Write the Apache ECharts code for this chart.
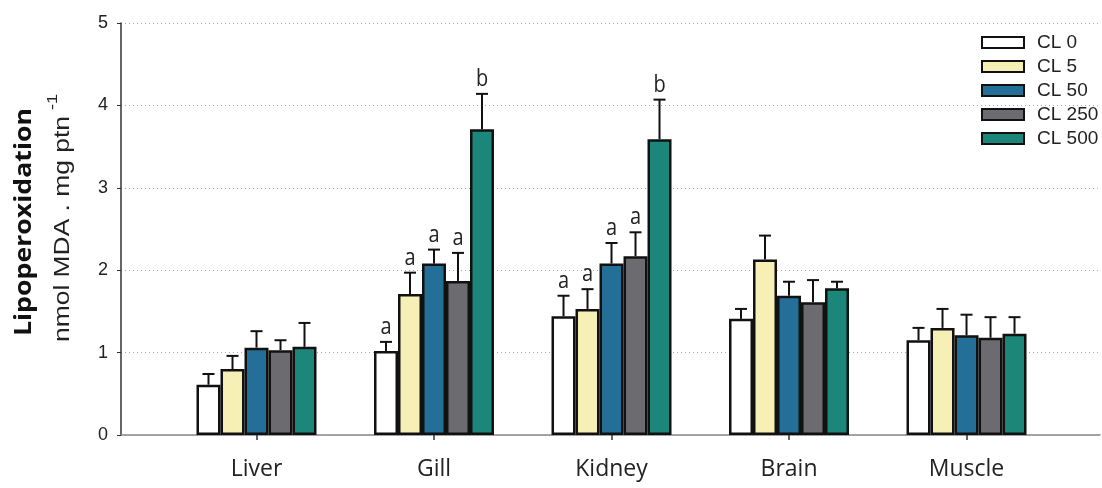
<!DOCTYPE html>
<html>
<head>
<meta charset="utf-8">
<script src="https://cdn.jsdelivr.net/npm/echarts@6/dist/echarts.min.js"></script>
<style>
  html, body { margin: 0; padding: 0; background: #fff; }
  #chart { width: 1102px; height: 488px; }
</style>
</head>
<body>
<div id="chart"></div>
<script>
// Tissues (x categories) and treatment groups
const categories = ['Liver', 'Gill', 'Kidney', 'Brain', 'Muscle'];
const groupNames = ['CL 0', 'CL 5', 'CL 50', 'CL 250', 'CL 500'];

// Mean lipoperoxidation per tissue, one array per group
const cl0   = [0.61, 1.02, 1.44, 1.41, 1.15];
const cl5   = [0.80, 1.71, 1.53, 2.13, 1.30];
const cl50  = [1.06, 2.08, 2.08, 1.69, 1.21];
const cl250 = [1.03, 1.87, 2.17, 1.61, 1.18];
const cl500 = [1.07, 3.71, 3.59, 1.78, 1.23];

// Standard errors (upper whisker) per group
const se0   = [0.13, 0.11, 0.25, 0.12, 0.15];
const se5   = [0.16, 0.26, 0.24, 0.29, 0.23];
const se50  = [0.20, 0.17, 0.25, 0.17, 0.25];
const se250 = [0.12, 0.34, 0.29, 0.27, 0.25];
const se500 = [0.29, 0.43, 0.48, 0.08, 0.20];

// Significance letters above the whiskers
const sig0   = ['', 'a', 'a', '', ''];
const sig5   = ['', 'a', 'a', '', ''];
const sig50  = ['', 'a', 'a', '', ''];
const sig250 = ['', 'a', 'a', '', ''];
const sig500 = ['', 'b', 'b', '', ''];

// Y axis ticks
const yTicks = [0, 1, 2, 3, 4, 5];

const means = [cl0, cl5, cl50, cl250, cl500];
const errs = [se0, se5, se50, se250, se500];
const sigs = [sig0, sig5, sig50, sig250, sig500];
const colors = ['#ffffff', '#f7f0b6', '#246f98', '#6c6c70', '#1d867a'];

const BAR_W = 24;
const catPos = categories.map((c, i) => i + 1);

const barSeries = groupNames.map((name, s) => ({
  name: name,
  type: 'bar',
  barWidth: BAR_W,
  barGap: '0%',
  itemStyle: { color: colors[s], borderColor: '#111', borderWidth: 2.5 },
  data: means[s].map((v, i) => [catPos[i], v]),
  z: 2
}));

// Whiskers + letters: [x, groupIndex, mean, upper, letter]
const errData = [];
groupNames.forEach((n, s) => {
  means[s].forEach((v, i) => {
    errData.push([catPos[i], s, v, v + errs[s][i], sigs[s][i]]);
  });
});

const errSeries = {
  type: 'custom',
  data: errData,
  encode: { x: 0, y: [2, 3] },
  z: 3,
  silent: true,
  renderItem: function (params, api) {
    const x = api.value(0);
    const s = api.value(1);
    const base = api.coord([x, api.value(2)]);
    const top = api.coord([x, api.value(3)]);
    const off = (s - (groupNames.length - 1) / 2) * BAR_W;
    const cx = base[0] + off;
    const children = [
      { type: 'line', shape: { x1: cx, y1: base[1], x2: cx, y2: top[1] },
        style: { stroke: '#111', lineWidth: 2 } },
      { type: 'line', shape: { x1: cx - 6, y1: top[1], x2: cx + 6, y2: top[1] },
        style: { stroke: '#111', lineWidth: 2 } }
    ];
    const letter = errData[params.dataIndex][4];
    if (letter) {
      children.push({
        type: 'text',
        x: cx, y: top[1] - 3, scaleY: 1.15,
        style: { text: letter, x: 0, y: 0, textAlign: 'center', textVerticalAlign: 'bottom',
                 fill: '#222', font: '20px "Open Sans", sans-serif' }
      });
    }
    return { type: 'group', children: children };
  }
};

const chart = echarts.init(document.getElementById('chart'), null, { renderer: 'canvas' });
chart.setOption({
  animation: false,
  backgroundColor: '#ffffff',
  grid: { left: 121, right: 2, top: 23, bottom: 53, containLabel: false },
  legend: {
    orient: 'vertical',
    left: 981,
    top: 33,
    padding: 0,
    itemWidth: 42,
    itemHeight: 11,
    itemGap: 5,
    icon: 'rect',
    textStyle: { fontFamily: '"Liberation Sans", Arial, sans-serif', fontSize: 19, color: '#222',
                 lineHeight: 18.5, padding: [0, 0, 0, 8] },
    data: groupNames
  },
  xAxis: {
    type: 'value',
    min: 0.2366,
    max: 5.752,
    splitLine: { show: false },
    axisLine: { show: true, onZero: false, lineStyle: { color: '#888', width: 1.5 } },
    axisTick: { show: true, customValues: catPos, length: 5, lineStyle: { color: '#333', width: 1.5 } },
    axisLabel: {
      customValues: catPos,
      formatter: v => categories[Math.round(v) - 1] || '',
      fontFamily: '"Open Sans", sans-serif',
      fontSize: 23,
      color: '#222',
      margin: 23
    }
  },
  yAxis: {
    type: 'value',
    min: 0,
    max: 5,
    interval: 1,
    axisLine: { show: true, lineStyle: { color: '#333', width: 1.5 } },
    axisTick: { show: true, length: 4, lineStyle: { color: '#333' } },
    axisLabel: {
      formatter: v => (yTicks.indexOf(v) >= 0 ? String(v) : ''),
      fontFamily: '"Liberation Sans", Arial, sans-serif', fontSize: 18, color: '#222', margin: 13
    },
    splitLine: { show: true, lineStyle: { color: '#aaa', type: [1, 3], width: 1 } }
  },
  graphic: [
    {
      type: 'text', x: 24, y: 222, rotation: Math.PI / 2, scaleX: 1.16,
      style: { text: 'Lipoperoxidation', x: 0, y: 0, textAlign: 'center', textVerticalAlign: 'middle',
               fill: '#111', font: 'bold 23px "Open Sans", sans-serif' }
    },
    {
      type: 'text', x: 63, y: 229, rotation: Math.PI / 2, scaleX: 1.2,
      style: { text: 'nmol MDA . mg ptn', x: 0, y: 0, textAlign: 'center', textVerticalAlign: 'middle',
               fill: '#222', font: '22px "Liberation Sans", Arial, sans-serif' }
    },
    {
      type: 'text', x: 53, y: 102, rotation: Math.PI / 2, scaleX: 1.2,
      style: { text: '-1', x: 0, y: 0, textAlign: 'center', textVerticalAlign: 'middle',
               fill: '#222', font: '15px "Liberation Sans", Arial, sans-serif' }
    }
  ],
  series: barSeries.concat([errSeries])
});
</script>
</body>
</html>
